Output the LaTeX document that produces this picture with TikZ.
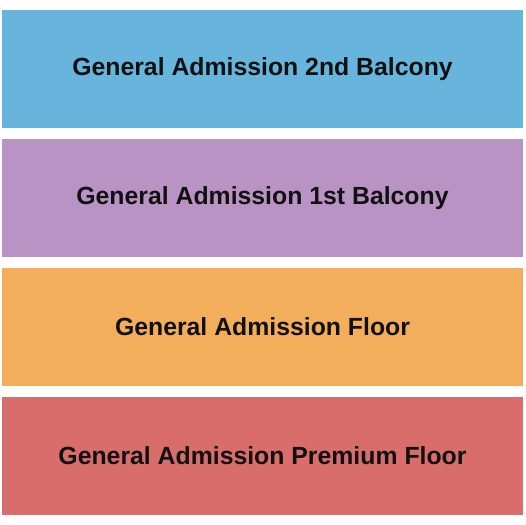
\documentclass[tikz,border=0pt]{standalone}
\usepackage{fontspec}
\setmainfont{Liberation Sans}
\usetikzlibrary{positioning}
\definecolor{balctwo}{HTML}{67B5DD}
\definecolor{balcone}{HTML}{B993C3}
\definecolor{floorc}{HTML}{F3AE5B}
\definecolor{premc}{HTML}{D96D6C}
\definecolor{labelc}{HTML}{111111}

\begin{document}
\begin{tikzpicture}[node distance=10.4bp, x=1bp, y=1bp]
\tikzset{
   zone/.style={rectangle, draw=none, inner sep=0pt, outer sep=0pt, minimum width=521bp, minimum height=118.5bp, text=labelc, font=\fontsize{24.9}{30}\selectfont\bfseries},
}
\useasboundingbox (0,0) rectangle (525,525);
\node[zone, fill=balctwo, anchor=north west] (balcony2) at (2,515) {General Admission 2nd Balcony};
\node[zone, fill=balcone, below=of balcony2] (balcony1) {General Admission 1st Balcony};
\node[zone, fill=floorc, below=of balcony1] (floor) {General Admission Floor};
\node[zone, fill=premc, below=of floor] (premium) {General Admission Premium Floor};
\end{tikzpicture}
\end{document}
